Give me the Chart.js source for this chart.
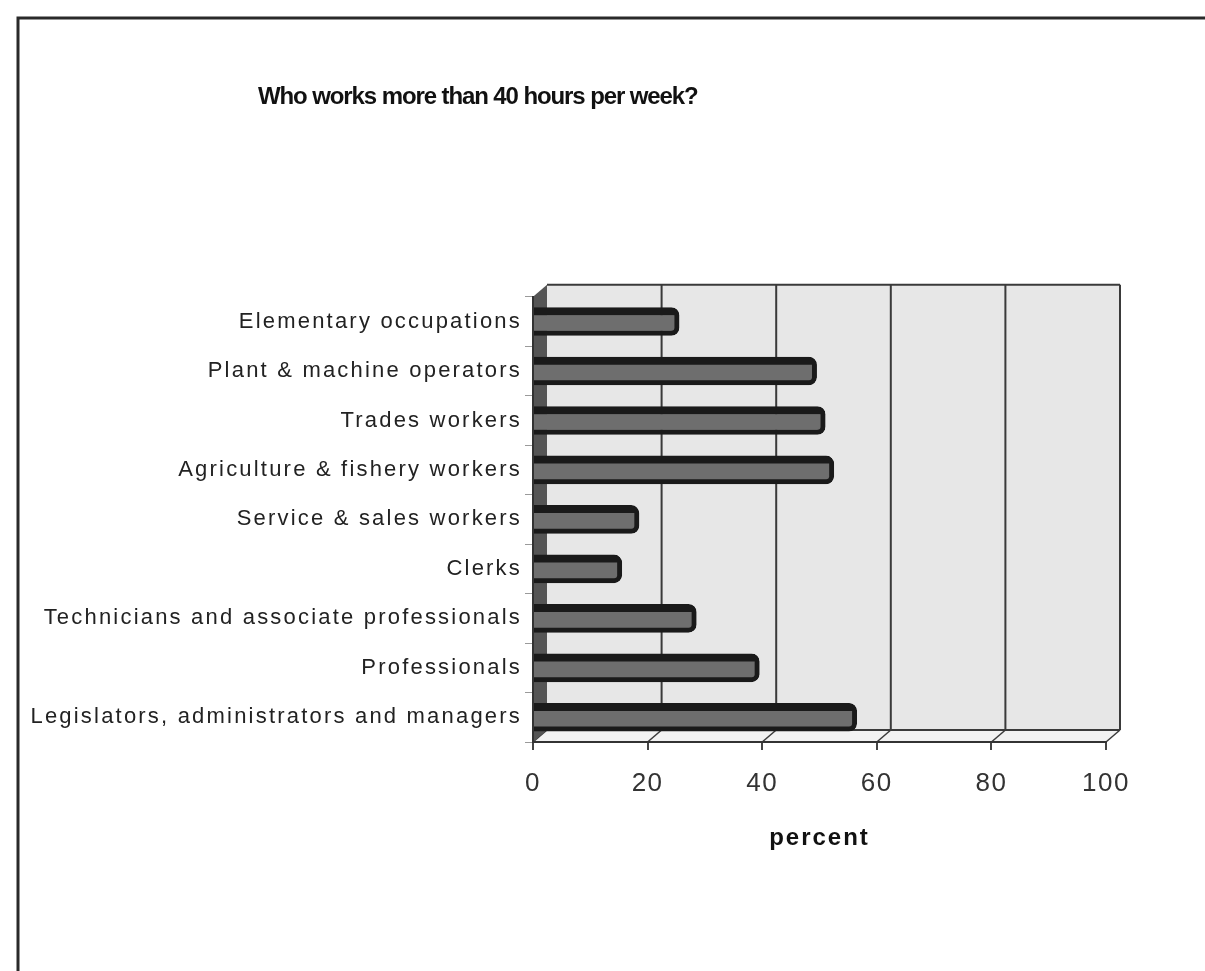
<!DOCTYPE html>
<html>
<head>
<meta charset="utf-8">
<script src="https://cdn.jsdelivr.net/npm/chart.js@4.4.1/dist/chart.umd.min.js"></script>
<style>
  html, body { margin: 0; padding: 0; background: #ffffff; }
  #wrap { position: relative; width: 1205px; height: 971px; }
</style>
</head>
<body>
<div id="wrap"><canvas id="c" width="1205" height="971"></canvas></div>
<script>
// ---- data ----
const titleText = 'Who works more than 40 hours per week?';
const axisTitle = 'percent';
const categories = [
  'Elementary occupations',
  'Plant & machine operators',
  'Trades workers',
  'Agriculture & fishery workers',
  'Service & sales workers',
  'Clerks',
  'Technicians and associate professionals',
  'Professionals',
  'Legislators, administrators and managers'
];
const percentValues = [25.5, 49.5, 51, 52.5, 18.5, 15.5, 28.5, 39.5, 56.5];
const xTicks = [0, 20, 40, 60, 80, 100];

const FONT = "'Liberation Sans', Arial, Helvetica, sans-serif";
const DEPTH_X = 14, DEPTH_Y = -12;
const TITLE_X = 258;

function wrapText(obj, method, spacing, dx) {
  if (!obj || obj['__sp_' + method]) return;
  const orig = obj[method];
  obj[method] = function () {
    const ctx = this.ctx;
    ctx.save();
    ctx.letterSpacing = spacing;
    if (dx) ctx.translate(dx, 0);
    try { return orig.apply(this, arguments); }
    finally { ctx.restore(); }
  };
  obj['__sp_' + method] = true;
}

const scene3d = {
  id: 'scene3d',
  beforeDraw(chart) {
    const ctx = chart.ctx;
    const ca = chart.chartArea;
    const xs = chart.scales.x;
    wrapText(chart.scales.y, 'drawLabels', '2.2px', 0);
    wrapText(xs, 'drawLabels', '1.5px', 0);
    wrapText(xs, 'drawTitle', '2px', 0);
    wrapText(chart.titleBlock, 'draw', '-1.1px', TITLE_X);

    ctx.save();
    ctx.fillStyle = '#ffffff';
    ctx.fillRect(0, 0, chart.width, chart.height);

    // page frame
    ctx.strokeStyle = '#2a2a2a';
    ctx.lineWidth = 3;
    ctx.beginPath();
    ctx.moveTo(chart.width + 2, 18);
    ctx.lineTo(18, 18);
    ctx.lineTo(18, chart.height + 2);
    ctx.stroke();

    const L = ca.left, R = ca.right, T = ca.top, B = ca.bottom;
    // back wall
    ctx.fillStyle = '#e7e7e7';
    ctx.fillRect(L + DEPTH_X, T + DEPTH_Y, R - L, B - T);
    // back wall grid lines
    ctx.strokeStyle = '#3a3a3a';
    ctx.lineWidth = 2;
    xTicks.forEach(v => {
      if (v === 0) return;
      const px = xs.getPixelForValue(v) + DEPTH_X;
      ctx.beginPath();
      ctx.moveTo(px, T + DEPTH_Y);
      ctx.lineTo(px, B + DEPTH_Y);
      ctx.stroke();
    });
    ctx.beginPath();
    ctx.moveTo(L + DEPTH_X, T + DEPTH_Y);
    ctx.lineTo(R + DEPTH_X, T + DEPTH_Y);
    ctx.stroke();

    // floor
    ctx.fillStyle = '#f2f2f2';
    ctx.beginPath();
    ctx.moveTo(L, B);
    ctx.lineTo(L + DEPTH_X, B + DEPTH_Y);
    ctx.lineTo(R + DEPTH_X, B + DEPTH_Y);
    ctx.lineTo(R, B);
    ctx.closePath();
    ctx.fill();
    ctx.strokeStyle = '#3a3a3a';
    ctx.lineWidth = 2;
    ctx.beginPath();
    ctx.moveTo(L + DEPTH_X, B + DEPTH_Y);
    ctx.lineTo(R + DEPTH_X, B + DEPTH_Y);
    ctx.stroke();
    ctx.lineWidth = 1.5;
    xTicks.forEach(v => {
      const px = xs.getPixelForValue(v);
      ctx.beginPath();
      ctx.moveTo(px, B);
      ctx.lineTo(px + DEPTH_X, B + DEPTH_Y);
      ctx.stroke();
    });

    // left wall
    ctx.fillStyle = '#555555';
    ctx.beginPath();
    ctx.moveTo(L, T);
    ctx.lineTo(L + DEPTH_X, T + DEPTH_Y);
    ctx.lineTo(L + DEPTH_X, B + DEPTH_Y);
    ctx.lineTo(L, B);
    ctx.closePath();
    ctx.fill();
    ctx.restore();
  }
};

new Chart(document.getElementById('c'), {
  type: 'bar',
  data: {
    labels: categories,
    datasets: [{
      data: percentValues,
      backgroundColor: '#6e6e6e',
      borderColor: '#1a1a1a',
      borderWidth: { top: 8, right: 5, bottom: 5, left: 0 },
      borderRadius: { topRight: 8, bottomRight: 8 },
      borderSkipped: false,
      barThickness: 28
    }]
  },
  plugins: [scene3d],
  options: {
    indexAxis: 'y',
    responsive: false,
    animation: false,
    devicePixelRatio: 1,
    layout: { padding: { left: 0, right: 99, top: 0, bottom: 0 } },
    plugins: {
      legend: { display: false },
      tooltip: { enabled: false },
      title: {
        display: true,
        text: titleText,
        align: 'start',
        color: '#111111',
        font: { family: FONT, size: 24, weight: 'bold' },
        padding: { top: 83, bottom: 185 }
      }
    },
    scales: {
      y: {
        afterFit(s) { s.width = 533; },
        grid: { display: true, drawOnChartArea: false, drawTicks: true, tickLength: 8, color: '#9a9a9a', offset: true },
        border: { display: true, color: '#333333', width: 2 },
        ticks: { color: '#222222', padding: 3, font: { family: FONT, size: 22 } }
      },
      x: {
        min: 0,
        max: 100,
        afterFit(s) { s.height = 229; },
        afterBuildTicks(s) { s.ticks = xTicks.map(v => ({ value: v })); },
        grid: { display: true, drawOnChartArea: false, drawTicks: true, tickLength: 8, color: '#444444', lineWidth: 2 },
        border: { display: true, color: '#333333', width: 2 },
        ticks: { color: '#333333', padding: 18, font: { family: FONT, size: 26 } },
        title: {
          display: true,
          text: axisTitle,
          color: '#111111',
          font: { family: FONT, size: 24, weight: 'bold' },
          padding: { top: 0, bottom: 118 }
        }
      }
    }
  }
});
</script>
</body>
</html>
